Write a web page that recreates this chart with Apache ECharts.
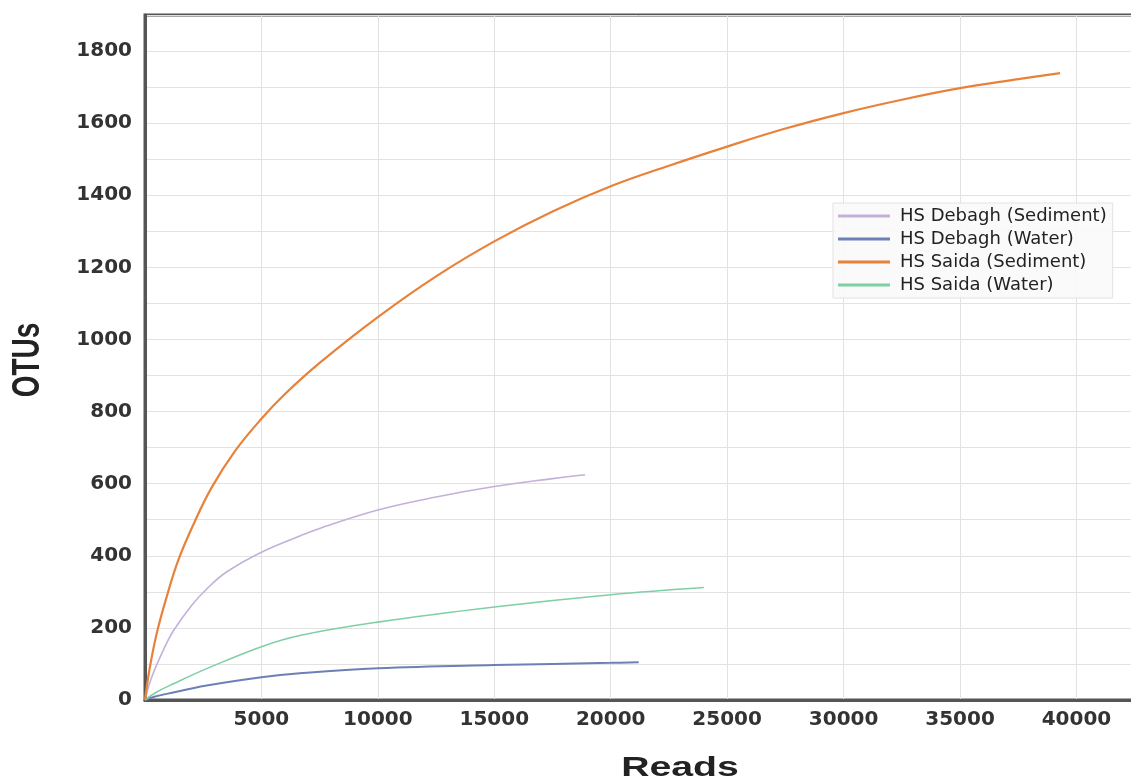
<!DOCTYPE html>
<html><head><meta charset="utf-8">
<script src="https://cdn.jsdelivr.net/npm/echarts@6/dist/echarts.min.js"></script>
<style>html,body{margin:0;padding:0;background:#fff}#c{width:1131px;height:782px}</style>
</head><body><div id="c"></div>
<script>
// ---- data ----
const seriesNames = ['HS Debagh (Sediment)', 'HS Debagh (Water)', 'HS Saida (Sediment)', 'HS Saida (Water)'];

const debaghSedimentReads = [0, 300, 800, 1200, 2000, 2650, 3500, 5000, 6650, 7500, 10000, 12500, 15000, 17500, 18900];
const debaghSedimentOtus  = [0, 65, 140, 190, 262, 308, 355, 410, 455, 476, 527, 563, 592, 614, 625];

const debaghWaterReads = [0, 400, 930, 2650, 5000, 6650, 10000, 15000, 20000, 21200];
const debaghWaterOtus  = [0, 9, 17, 40, 63, 74, 88, 97, 103, 105];

const saidaSedimentReads = [0, 190, 500, 930, 1430, 2080, 2860, 3870, 5000, 6000, 7500, 10000, 12500, 15000, 17500, 20000, 22500, 25000, 27500, 30000, 32500, 35000, 37500, 39300];
const saidaSedimentOtus  = [0, 84, 184, 286, 388, 487, 589, 691, 780, 848, 935, 1062, 1175, 1272, 1355, 1425, 1482, 1535, 1585, 1628, 1665, 1697, 1722, 1739];

const saidaWaterReads = [0, 500, 1220, 2650, 5000, 6650, 10000, 15000, 20000, 24000];
const saidaWaterOtus  = [0, 22, 45, 87, 148, 179, 216, 258, 292, 312];

const seriesColors = ['#c3b1da', '#6d80b6', '#e8823a', '#7fcfa6'];
const seriesWidths = [1.6, 2, 2.2, 1.6];

const xTickStep = 5000;
const yTickStep = 100;
const yLabelStep = 200;

function pairs(xs, ys) { return xs.map((x, i) => [x, ys[i]]); }
const allData = [
  pairs(debaghSedimentReads, debaghSedimentOtus),
  pairs(debaghWaterReads, debaghWaterOtus),
  pairs(saidaSedimentReads, saidaSedimentOtus),
  pairs(saidaWaterReads, saidaWaterOtus)
];

const chart = echarts.init(document.getElementById('c'), null, {renderer: 'canvas'});
const labelFont = 'DejaVu Sans';

chart.setOption({
  animation: false,
  backgroundColor: '#ffffff',
  grid: {
    left: 145, right: -6, top: 15, bottom: 82,
    outerBoundsMode: 'none', containLabel: false,
    show: true, borderColor: '#555', borderWidth: 3, backgroundColor: 'transparent'
  },
  xAxis: {
    type: 'value', min: 0, max: 42600, interval: xTickStep,
    axisLine: {show: true, lineStyle: {color: '#555', width: 3}},
    axisTick: {show: false},
    splitLine: {show: true, lineStyle: {color: '#e2e2e2', width: 1}},
    axisLabel: {
      margin: 10, color: '#333', fontFamily: labelFont, fontWeight: 'bold', fontSize: 20,
      formatter: v => (v > 0 && v % xTickStep === 0) ? String(v) : ''
    }
  },
  yAxis: {
    type: 'value', min: 0, max: 1900, interval: yTickStep,
    axisLine: {show: true, lineStyle: {color: '#555', width: 3}},
    axisTick: {show: false},
    splitLine: {show: true, lineStyle: {color: '#e2e2e2', width: 1}},
    axisLabel: {
      margin: 13, color: '#333', fontFamily: labelFont, fontWeight: 'bold', fontSize: 20,
      formatter: v => (v % yLabelStep === 0 && v <= 1800) ? String(v) : ''
    }
  },
  legend: {
    orient: 'vertical', left: 833, top: 203,
    padding: [4, 6, 4, 5],
    backgroundColor: 'rgba(250,250,250,0.92)', borderColor: '#e2e2e2', borderWidth: 1,
    icon: 'rect', itemWidth: 52, itemHeight: 3, itemGap: 5,
    textStyle: {fontFamily: labelFont, fontSize: 18, color: '#222', lineHeight: 18, padding: [0, 0, 0, 5]},
    data: seriesNames
  },
  graphic: [
    {type: 'text', x: 28, y: 360, rotation: Math.PI / 2, scaleY: 1.4,
     style: {text: 'OTUs', font: 'bold 28px "Liberation Sans", Arial, sans-serif', fill: '#222', align: 'center', verticalAlign: 'middle'}},
    {type: 'text', x: 680, y: 768, scaleX: 1.4,
     style: {text: 'Reads', font: 'bold 28px "Liberation Sans", Arial, sans-serif', fill: '#222', align: 'center', verticalAlign: 'middle'}}
  ],
  series: seriesNames.map((name, i) => ({
    name: name, type: 'line', data: allData[i],
    smooth: 0.4, showSymbol: false, symbol: 'none',
    color: seriesColors[i],
    lineStyle: {color: seriesColors[i], width: seriesWidths[i]},
    z: i === 2 ? 3 : 2
  }))
});
</script>
</body></html>
